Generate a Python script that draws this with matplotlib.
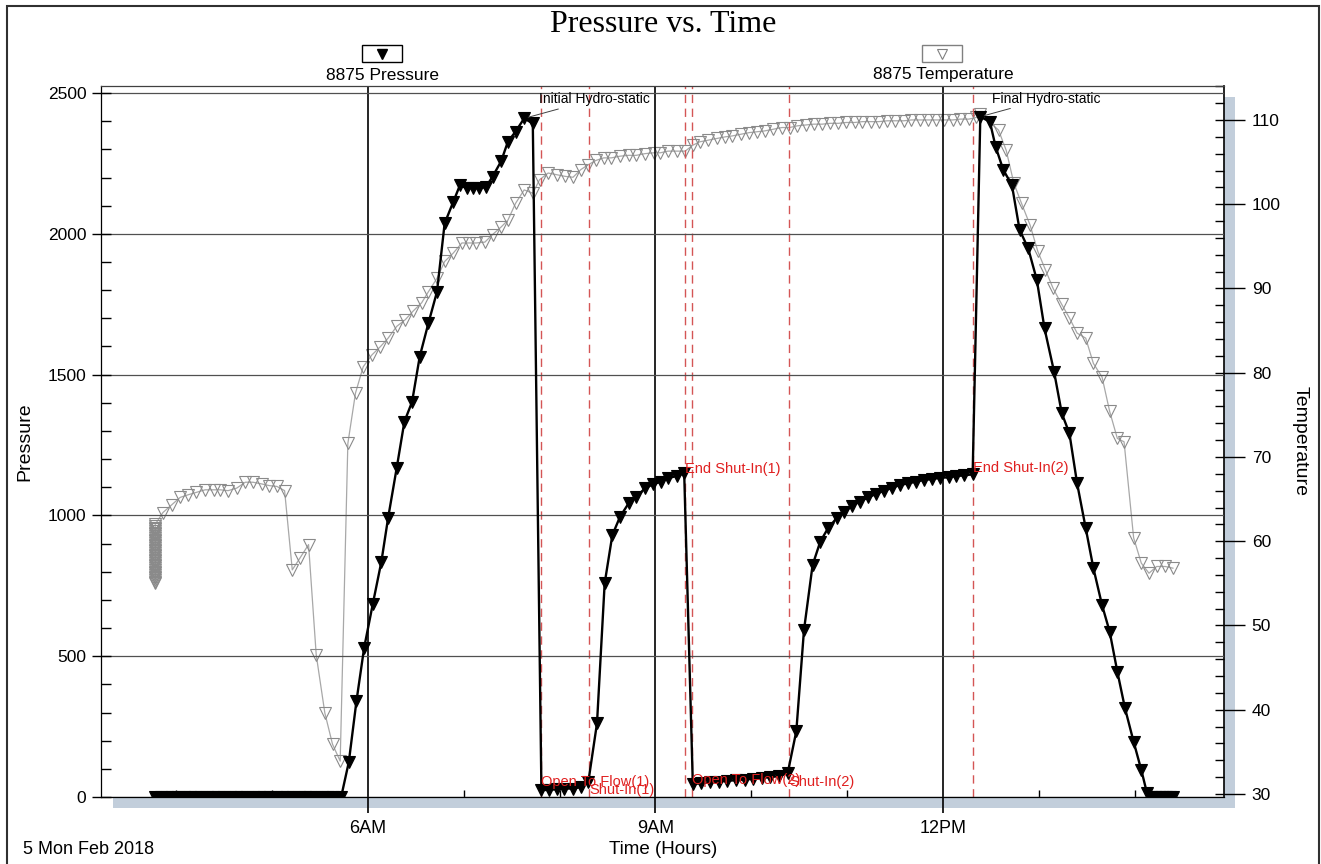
import matplotlib
matplotlib.use("Agg")
import matplotlib.pyplot as plt
from matplotlib.patches import Rectangle
from matplotlib.lines import Line2D
from matplotlib.ticker import MultipleLocator, FixedLocator

# time in hours since midnight, 5 Feb 2018
press_t = [3.78, 3.84, 3.90, 3.96, 4.02, 4.08, 4.14, 4.20, 4.26, 4.32, 4.38, 4.44,
           4.50, 4.56, 4.62, 4.68, 4.74, 4.80, 4.86, 4.92, 4.98, 5.04, 5.10, 5.16,
           5.22, 5.28, 5.34, 5.40, 5.46, 5.52, 5.58, 5.64, 5.72,
           5.80, 5.88, 5.96, 6.05, 6.14, 6.21, 6.30, 6.38, 6.46, 6.54, 6.63, 6.72,
           6.80, 6.89, 6.96, 7.03, 7.10, 7.16, 7.23, 7.30, 7.39, 7.46, 7.54, 7.63, 7.72,
           7.81, 7.89, 7.97, 8.05, 8.14, 8.22, 8.30, 8.39, 8.47, 8.55, 8.63, 8.72,
           8.80, 8.89, 8.97, 9.06, 9.13, 9.22, 9.30,
           9.39, 9.48, 9.57, 9.66, 9.75, 9.84, 9.93, 10.02, 10.11, 10.20, 10.29, 10.38,
           10.47, 10.55, 10.64, 10.72, 10.80, 10.89, 10.97, 11.05, 11.13, 11.22, 11.30,
           11.38, 11.47, 11.55, 11.64, 11.72, 11.80, 11.89, 11.97, 12.06, 12.14, 12.22, 12.31,
           12.39, 12.49, 12.55, 12.63, 12.72, 12.80, 12.89, 12.98, 13.06, 13.16, 13.24,
           13.32, 13.40, 13.49, 13.57, 13.66, 13.74, 13.82, 13.90, 13.99, 14.07, 14.13,
           14.17, 14.21, 14.25, 14.29, 14.33, 14.37, 14.40]
press_p = [0, 0, 0, 0, 0, 0, 0, 0, 0, 0, 0, 0,
           0, 0, 0, 0, 0, 0, 0, 0, 0, 0, 0, 0,
           0, 0, 0, 0, 0, 0, 0, 0, 0,
           124, 341, 530, 685, 836, 991, 1169, 1333, 1403, 1564, 1682, 1794,
           2037, 2114, 2173, 2162, 2162, 2162, 2166, 2203, 2258, 2327, 2363, 2410, 2392,
           25, 25, 28, 30, 30, 35, 55, 262, 759, 930, 995, 1043,
           1066, 1096, 1110, 1120, 1132, 1140, 1149,
           45, 50, 52, 55, 57, 60, 62, 65, 68, 71, 74, 85,
           234, 593, 824, 907, 954, 990, 1013, 1033, 1049, 1064, 1076,
           1087, 1098, 1108, 1114, 1120, 1126, 1129, 1134, 1135, 1140, 1142, 1146,
           2416, 2398, 2309, 2227, 2173, 2014, 1948, 1836, 1664, 1510, 1363,
           1291, 1114, 955, 813, 682, 587, 445, 315, 196, 96, 13,
           0, 0, 0, 0, 0, 0, 0]

# gauge start-up readings all logged at 3.78 h
startup_v = [55.0, 55.2, 55.4, 55.6, 55.8, 56.0, 56.2, 56.4, 56.6, 56.8, 57.0, 57.2,
             57.4, 57.6, 57.8, 58.0, 58.2, 58.4, 58.6, 58.8, 59.0, 59.2, 59.4, 59.6,
             59.8, 60.0, 60.2, 60.4, 60.6, 60.8, 61.0, 61.2, 61.4, 61.6, 61.8, 62.0]
temp_t = [3.78] * len(startup_v) + [
          3.86, 3.95, 4.04, 4.12, 4.21, 4.30, 4.39, 4.46, 4.54, 4.63, 4.72, 4.80,
          4.89, 4.97, 5.05, 5.13, 5.21, 5.29, 5.38, 5.46, 5.55, 5.63, 5.71, 5.79,
          5.87, 5.95, 6.04, 6.13, 6.21, 6.30, 6.39, 6.47, 6.56, 6.63, 6.72, 6.80,
          6.89, 6.98, 7.05, 7.13, 7.22, 7.30, 7.39, 7.46, 7.54, 7.63, 7.72, 7.79,
          7.88, 7.97, 8.06, 8.14, 8.22, 8.30, 8.38, 8.46, 8.54, 8.63, 8.72, 8.80,
          8.89, 8.98, 9.05, 9.13, 9.22, 9.31, 9.39, 9.46, 9.55, 9.64, 9.73, 9.80,
          9.89, 9.98, 10.06, 10.14, 10.23, 10.32, 10.40, 10.48, 10.57, 10.65, 10.74,
          10.82, 10.91, 10.99, 11.08, 11.16, 11.25, 11.33, 11.42, 11.50, 11.59, 11.67,
          11.76, 11.84, 11.93, 12.01, 12.10, 12.18, 12.27, 12.35, 12.39, 12.58, 12.66,
          12.74, 12.82, 12.91, 12.99, 13.07, 13.15, 13.24, 13.32, 13.40, 13.49, 13.57,
          13.66, 13.74, 13.82, 13.89, 13.99, 14.07, 14.15, 14.23, 14.32, 14.40]
temp_v = startup_v + [
          63.4, 64.3, 65.2, 65.5, 65.8, 66.1, 66.1, 66.1, 66.0, 66.3, 67.0, 67.0,
          66.8, 66.6, 66.5, 66.0, 56.6, 58.0, 59.6, 46.5, 39.6, 35.9, 33.9, 71.6,
          77.6, 80.7, 82.1, 83.1, 84.1, 85.5, 86.3, 87.3, 88.3, 89.6, 91.2, 93.2,
          94.2, 95.4, 95.4, 95.4, 95.5, 96.4, 97.3, 98.1, 100.1, 101.7, 101.3, 102.9,
          103.7, 103.5, 103.3, 103.2, 104.1, 104.7, 105.2, 105.5, 105.5, 105.7, 105.8, 105.8,
          106.0, 106.1, 106.1, 106.3, 106.3, 106.3, 107.0, 107.4, 107.6, 107.8, 108.0, 108.1,
          108.3, 108.5, 108.6, 108.7, 108.9, 109.1, 109.1, 109.3, 109.4, 109.5, 109.5,
          109.6, 109.6, 109.7, 109.7, 109.8, 109.8, 109.8, 109.9, 109.9, 109.9, 110.0,
          110.0, 110.0, 110.0, 110.0, 110.0, 110.1, 110.1, 110.3, 110.7, 108.8, 106.4,
          102.5, 100.1, 97.5, 94.4, 92.2, 90.0, 88.1, 86.5, 84.7, 84.1, 81.1,
          79.5, 75.4, 72.2, 71.8, 60.4, 57.4, 56.2, 57.0, 57.0, 56.8]

event_t = [7.805, 8.306, 9.308, 9.381, 10.393, 12.313]
event_names = ["Open To Flow(1)", "Shut-In(1)", "End Shut-In(1)",
               "Open To Flow(2)", "Shut-In(2)", "End Shut-In(2)"]
event_label_p = [54, 26, 1165, 60, 54, 1168]

hour_ticks = [6, 9, 12]
hour_labels = ["6AM", "9AM", "12PM"]

W, H = 1321, 864
fig = plt.figure(figsize=(W / 100, H / 100), dpi=100)
ax = fig.add_axes([101 / W, 1 - 797 / H, 1123 / W, 711 / H])
ax2 = ax.twinx()
ax.set_zorder(ax2.get_zorder() + 1)
ax.patch.set_visible(False)


def fx(x, y):
    return x / W, 1 - y / H


sans = "Liberation Sans"

# temperature (right axis)
ax2.plot(temp_t, temp_v, color="#a8a8a8", lw=0.9, marker="v", ms=8,
         mfc="none", mec="#8a8a8a", mew=0.8)
ax2.set_ylim(29.64, 114.03)
ax2.set_yticks(range(30, 111, 10))
ax2.yaxis.set_minor_locator(MultipleLocator(2))
ax2.yaxis.remove_overlapping_locs = False
ax2.tick_params(axis="y", which="major", direction="out", length=15, width=1,
                pad=5, labelsize=12.5)
ax2.tick_params(axis="y", which="minor", direction="in", length=6.5, width=1)
for lab in ax2.get_yticklabels():
    lab.set_family(sans)
ax2.set_ylabel("Temperature", rotation=270, fontsize=14, family=sans, labelpad=20)
for side in ["top", "left", "bottom"]:
    ax2.spines[side].set_visible(False)
ax2.spines["right"].set_linewidth(1.2)

# pressure (left axis)
ax.plot(press_t, press_p, color="black", lw=1.7, marker="v", ms=8.5,
        mfc="black", mec="black", mew=0.8)
ax.set_xlim(3.214, 14.933)
ax.set_ylim(0, 2525)
ax.set_yticks(range(0, 2501, 500))
ax.yaxis.set_minor_locator(MultipleLocator(100))
ax.yaxis.remove_overlapping_locs = False
ax.tick_params(axis="y", which="major", direction="out", length=6.5, width=1,
               pad=4, labelsize=12.5)
ax.tick_params(axis="y", which="minor", direction="in", length=7, width=1)
ax.set_xticks(hour_ticks)
ax.set_xticklabels(hour_labels)
ax.xaxis.set_minor_locator(FixedLocator([4, 5, 7, 8, 10, 11, 13, 14]))
ax.tick_params(axis="x", which="major", direction="out", length=11.5, width=1.2,
               pad=5, labelsize=13)
ax.tick_params(axis="x", which="minor", direction="in", length=5, width=1)
for lab in ax.get_xticklabels() + ax.get_yticklabels():
    lab.set_family(sans)
ax.set_ylabel("Pressure", fontsize=14, family=sans, labelpad=10)

ax.grid(axis="y", which="major", color="#505050", lw=0.9)
ax.grid(axis="x", which="major", color="black", lw=1.2)
for s in ax.spines.values():
    s.set_linewidth(0.9)
ax.spines["top"].set_color("#404040")
ax.spines["right"].set_visible(False)

# event markers
for t, name, lp in zip(event_t, event_names, event_label_p):
    ax.axvline(t, color="#d45555", lw=1, ls=(0, (6, 4)), zorder=1)
    ax.text(t + 0.005, lp, name, color="#e02020", fontsize=10.5, family=sans,
            va="center", ha="left", zorder=5)

i_init = press_p.index(2410)
i_final = press_p.index(2416)
ax.annotate("Initial Hydro-static", xy=(press_t[i_init], press_p[i_init]),
            xytext=(7.78, 2478), fontsize=10, family=sans, va="center", ha="left",
            arrowprops=dict(arrowstyle="-", color="#404040", lw=0.7,
                            shrinkA=0, shrinkB=3))
ax.annotate("Final Hydro-static", xy=(press_t[i_final], press_p[i_final]),
            xytext=(12.51, 2480), fontsize=10, family=sans, va="center", ha="left",
            arrowprops=dict(arrowstyle="-", color="#404040", lw=0.7,
                            shrinkA=0, shrinkB=3))

# 3D floor / wall shading
shade = "#c2cedb"
fig.add_artist(Rectangle((0.0107, -0.0155), 0.999, 0.0155, transform=ax.transAxes,
                         facecolor=shade, edgecolor="none", zorder=0))
fig.add_artist(Rectangle((1.0, -0.0155), 0.0098, 1.0, transform=ax.transAxes,
                         facecolor=shade, edgecolor="none", zorder=0))

# legend headers
fig.add_artist(Rectangle(fx(362, 62), 40 / W, 17 / H, transform=fig.transFigure,
                         facecolor="white", edgecolor="black", lw=1))
fig.add_artist(Line2D([382 / W], [1 - 53.5 / H], transform=fig.transFigure,
                      marker="v", ms=7.5, color="black"))
fig.text(*fx(382, 75), "8875 Pressure", fontsize=12.5, family=sans,
         ha="center", va="center")
fig.add_artist(Rectangle(fx(922, 62), 40 / W, 17 / H, transform=fig.transFigure,
                         facecolor="white", edgecolor="#808080", lw=1))
fig.add_artist(Line2D([942 / W], [1 - 53.5 / H], transform=fig.transFigure,
                      marker="v", ms=7.5, mfc="none", mec="#808080", mew=0.8))
fig.text(*fx(943, 75), "8875 Temperature", fontsize=12.5, family=sans,
         ha="center", va="center")

fig.text(*fx(663, 24), "Pressure vs. Time", fontsize=23, family="Liberation Serif",
         ha="center", va="center")
fig.text(*fx(663, 850), "Time (Hours)", fontsize=13.5, family=sans,
         ha="center", va="center")
fig.text(*fx(23, 850), "5 Mon Feb 2018", fontsize=13, family=sans,
         ha="left", va="center")

# outer frame
fig.add_artist(Rectangle((7 / W, -0.01), 1312 / W, 1 - 6 / H + 0.01,
                         transform=fig.transFigure, fill=False,
                         edgecolor="#303030", lw=1.5))

fig.savefig("out.png", dpi=100)
